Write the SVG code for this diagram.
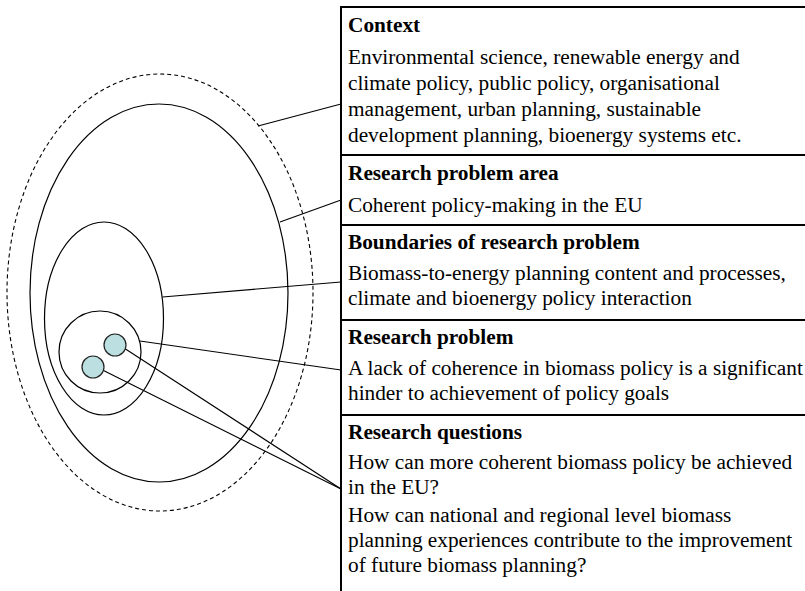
<svg xmlns="http://www.w3.org/2000/svg" width="805" height="591" viewBox="0 0 805 591">
<style>
  .ring{fill:none;stroke:#000;stroke-width:1.2}
  .dash{fill:none;stroke:#000;stroke-width:1.1;stroke-dasharray:4 3}
  .dot{fill:#bcdfe1;stroke:#222;stroke-width:1.2}
  .conn line{stroke:#000;stroke-width:1.1}
  .rule{stroke:#000;stroke-width:2}
  .h{font-family:"Liberation Serif",serif;font-size:21.3px;font-weight:bold;fill:#000}
  .t{font-family:"Liberation Serif",serif;font-size:21.3px;fill:#000}
</style>
<rect width="805" height="591" fill="#fff"/>
<g id="context-ring"><ellipse class="dash" cx="160" cy="292.5" rx="153" ry="218.5"/></g>
<g id="problem-area-ring"><ellipse class="ring" cx="159" cy="293" rx="129" ry="189"/></g>
<g id="boundaries-ring"><ellipse class="ring" cx="104" cy="318.5" rx="59.5" ry="96.5"/></g>
<g id="problem-ring"><circle class="ring" cx="100" cy="352" r="41"/></g>
<g id="question-1"><circle class="dot" cx="115" cy="345" r="11"/></g>
<g id="question-2"><circle class="dot" cx="93" cy="367" r="11"/></g>
<g id="connectors" class="conn">
  <line x1="258" y1="126" x2="341" y2="104"/>
  <line x1="280" y1="222" x2="341" y2="200"/>
  <line x1="162.5" y1="297" x2="341" y2="282"/>
  <line x1="140" y1="341" x2="341" y2="370"/>
  <line x1="125.5" y1="349" x2="341" y2="489"/>
  <line x1="103.5" y1="370.5" x2="341" y2="489"/>
</g>
<g id="table">
  <line class="rule" x1="341" y1="7" x2="805" y2="7"/>
  <line class="rule" x1="341" y1="6" x2="341" y2="591"/>
  <line class="rule" x1="341" y1="155" x2="805" y2="155"/>
  <line class="rule" x1="341" y1="225" x2="805" y2="225"/>
  <line class="rule" x1="341" y1="320" x2="805" y2="320"/>
  <line class="rule" x1="341" y1="415" x2="805" y2="415"/>
</g>
<g id="context-text">
  <text class="h" x="348" y="32">Context</text>
  <text class="t" x="348" y="64">Environmental science, renewable energy and</text>
  <text class="t" x="348" y="90">climate policy, public policy, organisational</text>
  <text class="t" x="348" y="116">management, urban planning, sustainable</text>
  <text class="t" x="348" y="142">development planning, bioenergy systems etc.</text>
</g>
<g id="problem-area-text">
  <text class="h" x="348" y="180">Research problem area</text>
  <text class="t" x="348" y="212">Coherent policy-making in the EU</text>
</g>
<g id="boundaries-text">
  <text class="h" x="348" y="249">Boundaries of research problem</text>
  <text class="t" x="348" y="280">Biomass-to-energy planning content and processes,</text>
  <text class="t" x="348" y="305">climate and bioenergy policy interaction</text>
</g>
<g id="problem-text">
  <text class="h" x="348" y="344">Research problem</text>
  <text class="t" x="348" y="375">A lack of coherence in biomass policy is a significant</text>
  <text class="t" x="348" y="400">hinder to achievement of policy goals</text>
</g>
<g id="questions-text">
  <text class="h" x="348" y="439">Research questions</text>
  <text class="t" x="348" y="469">How can more coherent biomass policy be achieved</text>
  <text class="t" x="348" y="494">in the EU?</text>
  <text class="t" x="348" y="522">How can national and regional level biomass</text>
  <text class="t" x="348" y="547">planning experiences contribute to the improvement</text>
  <text class="t" x="348" y="572">of future biomass planning?</text>
</g>
</svg>
